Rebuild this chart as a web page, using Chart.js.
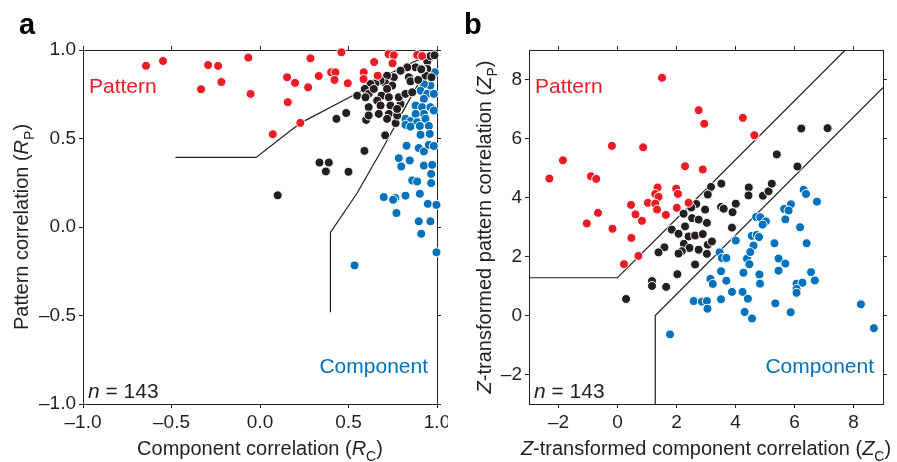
<!DOCTYPE html>
<html>
<head>
<meta charset="utf-8">
<script src="https://cdn.jsdelivr.net/npm/chart.js@4.4.0/dist/chart.umd.min.js"></script>
<style>
body { margin: 0; background: #fff; }
#wrap { position: relative; width: 897px; height: 462px; }
.panel { position: absolute; top: 0; height: 462px; }
</style>
</head>
<body>
<div id="wrap">
  <div class="panel" style="left:0;width:448px"><canvas id="chartA" width="448" height="462"></canvas></div>
  <div class="panel" style="left:448px;width:449px"><canvas id="chartB" width="449" height="462"></canvas></div>
</div>
<script>
var RED = '#ec1c24', BLUE = '#0072bc', INK = '#231f20';
var FONT = '"Liberation Sans", Arial, sans-serif';

// panel a: [component correlation Rc, pattern correlation Rp]
var patternA = [[-0.644,0.911],[-0.548,0.938],[-0.293,0.915],[-0.237,0.910],[-0.066,0.957],[-0.333,0.778],
  [-0.218,0.819],[-0.053,0.752],[0.153,0.846],[0.198,0.814],[0.272,0.789],[0.285,0.953],[0.332,0.853],
  [0.402,0.874],[0.426,0.874],[0.421,0.831],[0.460,0.987],[0.496,0.812],[0.586,0.874],[0.585,0.836],
  [0.645,0.932],[0.726,0.977],[0.756,0.970],[0.749,0.925],[0.888,0.972],[0.916,0.966],[0.157,0.705],
  [0.228,0.588],[0.072,0.524],[0.665,0.855]];
var mixedA = [[0.100,0.179],[0.336,0.364],[0.389,0.364],[0.372,0.314],[0.500,0.312],[0.590,0.430],
  [0.707,0.518],[0.432,0.611],[0.487,0.644],[0.600,0.605],[0.766,0.587],
  [0.939,0.959],[0.945,0.936],[0.945,0.893],[0.935,0.855],[0.969,0.846],[0.916,0.893],[0.879,0.902],
  [0.832,0.902],[0.794,0.883],[0.841,0.846],[0.850,0.823],[0.894,0.831],[0.756,0.846],[0.718,0.855],
  [0.709,0.812],[0.747,0.799],[0.681,0.827],[0.652,0.812],[0.624,0.808],[0.592,0.780],[0.549,0.742],
  [0.614,0.752],[0.643,0.780],[0.718,0.780],[0.686,0.742],[0.728,0.733],[0.662,0.714],[0.596,0.733],
  [0.614,0.677],[0.681,0.686],[0.737,0.686],[0.794,0.695],[0.784,0.733],[0.822,0.752],[0.614,0.630],
  [0.671,0.639],[0.728,0.639],[0.775,0.630],[0.775,0.667],[0.718,0.611],[0.963,0.966],[0.986,0.970],
  [0.911,0.891],[0.860,0.761]];
var componentA = [[0.988,0.874],[0.963,0.799],[0.926,0.808],[0.907,0.770],[0.945,0.752],[0.982,0.752],
  [0.926,0.724],[0.879,0.686],[0.916,0.677],[0.963,0.677],[0.982,0.658],[0.926,0.639],[0.879,0.639],
  [0.822,0.611],[0.850,0.598],[0.888,0.592],[0.935,0.611],[0.822,0.577],[0.850,0.567],[0.903,0.571],
  [0.954,0.571],[0.907,0.521],[0.959,0.526],[0.828,0.459],[0.897,0.446],[0.926,0.427],[0.954,0.464],
  [0.982,0.458],[0.784,0.389],[0.846,0.376],[0.798,0.342],[0.926,0.347],[0.973,0.351],[0.967,0.300],
  [0.860,0.263],[0.888,0.257],[0.967,0.248],[0.699,0.169],[0.765,0.164],[0.822,0.177],[0.903,0.188],
  [0.752,0.154],[0.948,0.131],[0.997,0.125],[0.771,0.079],[0.897,0.032],[0.963,0.032],[0.911,-0.038],
  [0.997,-0.143],[0.534,-0.217]];
var upperLineA = [[-0.478,0.393],[-0.022,0.393],[0.228,0.587],[0.549,0.756],[0.756,0.878],[0.869,0.934],[0.982,0.977]];
var lowerLineA = [[0.398,-0.482],[0.398,-0.030],[0.549,0.192],[0.699,0.455],[0.822,0.680],[0.907,0.831],[0.963,0.925],[0.990,0.970]];
var ticksA = [-1, -0.5, 0, 0.5, 1];

// panel b: [Zc, Zp]
var patternB = [[1.51,8.06],[2.75,6.96],[2.94,6.50],[4.25,6.70],[4.64,6.11],[-0.19,5.75],[0.87,5.70],
  [-1.85,5.26],[-2.31,4.64],[-0.90,4.72],[-0.72,4.63],[2.29,5.06],[2.89,4.95],[1.36,4.34],[1.28,4.12],
  [1.39,4.02],[1.99,4.30],[2.05,4.12],[0.46,3.75],[1.03,3.82],[1.28,3.79],[1.34,3.59],[1.64,3.41],
  [2.01,3.65],[2.41,3.82],[-0.66,3.48],[0.61,3.43],[0.83,3.21],[-1.04,3.12],[-0.17,2.94],[0.47,2.63],
  [0.71,2.02],[0.22,1.74]];
var mixedB = [[6.23,6.34],[7.12,6.35],[5.40,5.46],[6.10,5.05],[3.17,4.36],[3.52,4.47],[3.06,4.10],
  [4.45,4.34],[4.44,4.07],[4.93,4.06],[5.12,4.21],[5.23,4.47],[2.67,3.78],[2.50,3.66],[2.97,3.59],
  [3.51,3.68],[3.60,3.62],[4.01,3.79],[3.90,3.50],[2.24,3.45],[2.53,3.30],[2.75,3.25],[3.03,3.14],
  [2.29,3.02],[3.88,2.98],[1.84,2.91],[2.07,2.77],[2.41,2.68],[2.63,2.71],[2.89,2.76],[2.25,2.43],
  [2.44,2.29],[2.18,2.18],[2.07,2.10],[1.59,2.31],[1.39,2.14],[2.75,2.23],[3.06,2.40],[3.20,2.51],
  [3.03,2.09],[2.63,1.73],[2.03,1.40],[1.17,1.17],[1.17,1.00],[1.65,0.97],[0.29,0.56]];
var componentB = [[6.31,4.26],[6.39,4.12],[6.76,3.86],[5.88,3.77],[5.65,3.61],[5.80,3.56],[5.69,3.26],
  [4.70,3.34],[4.84,3.33],[5.03,3.19],[4.92,3.08],[6.19,2.99],[4.01,2.54],[4.55,2.70],[4.72,2.73],
  [4.80,2.66],[4.61,2.37],[5.32,2.45],[6.41,2.45],[3.46,2.14],[3.54,1.95],[3.69,1.95],[4.39,1.93],
  [4.50,2.15],[4.47,1.74],[5.46,1.93],[5.69,1.76],[5.46,1.52],[3.51,1.50],[4.27,1.45],[4.81,1.39],
  [4.83,1.08],[6.56,1.47],[6.69,1.19],[6.07,1.08],[6.27,1.11],[6.07,0.90],[6.07,0.77],[3.15,1.24],
  [3.23,1.07],[3.69,1.18],[3.88,0.80],[4.24,0.80],[4.42,0.57],[3.51,0.55],[2.58,0.49],[2.86,0.47],
  [3.03,0.49],[3.05,0.23],[4.31,0.12],[4.56,-0.10],[5.35,0.41],[5.87,0.11],[8.25,0.38],[8.69,-0.43],
  [1.78,-0.64]];
var upperLineB = [[-3,1.28],[0,1.28],[7.72,9]];
var lowerLineB = [[1.28,-3],[1.28,0],[9,7.72]];
var ticksB = [-2, 0, 2, 4, 6, 8];

toXY = function (pairs) {
    return pairs.map(function (p) { return {x: p[0], y: p[1]}; });
}

dots = function (pairs, color) {
    return {
        data: toXY(pairs), backgroundColor: color, borderColor: '#fff', borderWidth: 1,
        pointRadius: 4.5, pointHoverRadius: 4.5, clip: 5, order: 1
    };
}

boundary = function (pairs) {
    return {
        data: toXY(pairs), showLine: true, fill: false, borderColor: INK, borderWidth: 1.2,
        pointRadius: 0, order: 5
    };
}

makeAxis = function (pos, min, max, ticks, fmt, size, labels) {
    return {
        type: 'linear', position: pos, min: min, max: max,
        afterBuildTicks: function (s) { s.ticks = ticks.map(function (v) { return {value: v}; }); },
        afterFit: function (s) {
            if (pos === 'left' || pos === 'right') {
                s.width = size;
                s.paddingTop = 0; s.paddingBottom = 0;
            } else {
                s.height = size;
                s.paddingLeft = 0; s.paddingRight = 0;
            }
        },
        grid: {drawOnChartArea: false, drawTicks: true, tickLength: 4, color: INK, tickWidth: 1},
        border: {display: true, color: INK, width: 1},
        ticks: {display: labels, color: INK, font: {family: FONT, size: 19}, padding: 3,
            maxRotation: 0, autoSkip: false, callback: fmt}
    };
}

drawRich = function (ctx, parts, x, y, align, color, size) {
    var fonts = {n: size + 'px ' + FONT, i: 'italic ' + size + 'px ' + FONT, s: Math.round(size * 0.72) + 'px ' + FONT};
    var w = 0;
    parts.forEach(function (p) { ctx.font = fonts[p[1]]; w += ctx.measureText(p[0]).width; });
    var cx = align === 'left' ? x : (align === 'right' ? x - w : x - w / 2);
    ctx.fillStyle = color;
    ctx.textAlign = 'left';
    ctx.textBaseline = 'alphabetic';
    parts.forEach(function (p) {
        ctx.font = fonts[p[1]];
        ctx.fillText(p[0], cx, y + (p[1] === 's' ? size * 0.28 : 0));
        cx += ctx.measureText(p[0]).width;
    });
}

var deco = {
    id: 'deco',
    afterDraw: function (chart, args, o) {
        var ctx = chart.ctx, a = chart.chartArea;
        ctx.save();
        ctx.font = 'bold 29px ' + FONT;
        ctx.fillStyle = '#000';
        ctx.textAlign = 'left';
        ctx.textBaseline = 'alphabetic';
        ctx.fillText(o.letter, o.letterX, 34);
        drawRich(ctx, [['Pattern', 'n']], a.left + 6, a.top + 43, 'left', RED, 21);
        drawRich(ctx, [['Component', 'n']], a.right - 9, a.bottom - 31, 'right', BLUE, 21);
        drawRich(ctx, [['n', 'i'], [' = 143', 'n']], a.left + 5, a.bottom - 6, 'left', INK, 21);
        drawRich(ctx, o.xTitle, (a.left + a.right) / 2, 455, 'center', INK, 20);
        ctx.translate(o.yTitleX, (a.top + a.bottom) / 2);
        ctx.rotate(-Math.PI / 2);
        drawRich(ctx, o.yTitle, 0, 0, 'center', INK, 20);
        ctx.restore();
    }
};

makeChart = function (id, sets, lines, range, ticks, fmt, sizes, deco_opts) {
    var ctx = document.getElementById(id);
    return new Chart(ctx, {
        type: 'scatter',
        data: {
            datasets: [boundary(lines[0]), boundary(lines[1]),
                dots(sets[0], RED), dots(sets[1], INK), dots(sets[2], BLUE)]
        },
        options: {
            responsive: false,
            animation: false,
            events: [],
            layout: {padding: 0},
            plugins: {legend: {display: false}, tooltip: {enabled: false}, deco: deco_opts},
            scales: {
                x: makeAxis('bottom', range[0], range[1], ticks, fmt, sizes.bottom, true),
                y: makeAxis('left', range[0], range[1], ticks, fmt, sizes.left, true),
                x2: makeAxis('top', range[0], range[1], ticks, fmt, sizes.top, false),
                y2: makeAxis('right', range[0], range[1], ticks, fmt, sizes.right, false)
            }
        },
        plugins: [deco]
    });
}

var fmtA = function (v) { return v.toFixed(1).replace('-', '\u2013'); };
var fmtB = function (v) { return String(v).replace('-', '\u2013'); };

makeChart('chartA', [patternA, mixedA, componentA], [upperLineA, lowerLineA], [-1, 1], ticksA, fmtA,
    {left: 83, right: 11, top: 50, bottom: 58},
    {letter: 'a', letterX: 19, yTitleX: 28,
     xTitle: [['Component correlation (', 'n'], ['R', 'i'], ['C', 's'], [')', 'n']],
     yTitle: [['Pattern correlation (', 'n'], ['R', 'i'], ['P', 's'], [')', 'n']]});

makeChart('chartB', [patternB, mixedB, componentB], [upperLineB, lowerLineB], [-3, 9], ticksB, fmtB,
    {left: 81, right: 14, top: 50, bottom: 58},
    {letter: 'b', letterX: 16, yTitleX: 43,
     xTitle: [['Z', 'i'], ['-transformed component correlation (', 'n'], ['Z', 'i'], ['C', 's'], [')', 'n']],
     yTitle: [['Z', 'i'], ['-transformed pattern correlation (', 'n'], ['Z', 'i'], ['P', 's'], [')', 'n']]});
</script>
</body>
</html>
